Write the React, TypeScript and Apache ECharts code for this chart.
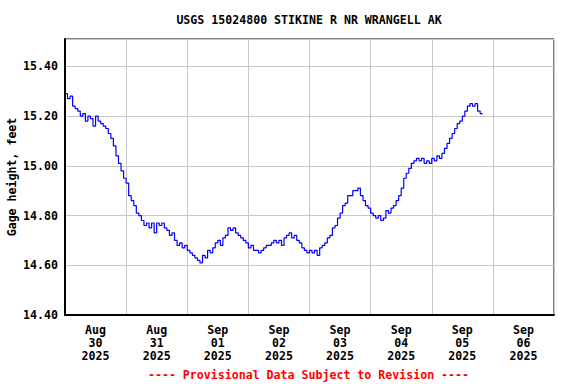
import React, { useEffect, useRef } from "react";
import * as echarts from "echarts";

const titleText = "USGS 15024800 STIKINE R NR WRANGELL AK";
const yAxisName = "Gage height, feet";
const footerText = "---- Provisional Data Subject to Revision ----";

// Day labels, centered at noon of each day (hours from Aug 30 00:00)
const dayLabels = [
  "Aug\n30\n2025",
  "Aug\n31\n2025",
  "Sep\n01\n2025",
  "Sep\n02\n2025",
  "Sep\n03\n2025",
  "Sep\n04\n2025",
  "Sep\n05\n2025",
  "Sep\n06\n2025",
];

// Hourly gage height readings, starting Aug 30 2025 00:00
const startHour = 0;
const gageHeight = [
  15.29, 15.27, 15.28, 15.24, 15.23, 15.22, 15.2, 15.21, 15.18, 15.2,
  15.19, 15.16, 15.2, 15.18, 15.17, 15.16, 15.15, 15.13, 15.11, 15.08,
  15.04, 15.01, 14.98, 14.95, 14.93, 14.88, 14.86, 14.84, 14.81, 14.8,
  14.78, 14.76, 14.77, 14.75, 14.77, 14.73, 14.77, 14.76, 14.77, 14.75,
  14.74, 14.72, 14.73, 14.7, 14.68, 14.69, 14.67, 14.68, 14.66, 14.65,
  14.64, 14.63, 14.62, 14.61, 14.64, 14.63, 14.66, 14.65, 14.67, 14.69,
  14.7, 14.68, 14.71, 14.72, 14.75, 14.74, 14.75, 14.73, 14.72, 14.71,
  14.7, 14.69, 14.67, 14.68, 14.66, 14.66, 14.65, 14.66, 14.67, 14.68,
  14.68, 14.69, 14.7, 14.69, 14.7, 14.68, 14.71, 14.72, 14.73, 14.71,
  14.72, 14.7, 14.69, 14.67, 14.66, 14.65, 14.66, 14.65, 14.66, 14.64,
  14.67, 14.68, 14.69, 14.71, 14.72, 14.75, 14.76, 14.79, 14.81, 14.84,
  14.85, 14.88, 14.88, 14.9, 14.9, 14.91, 14.88, 14.86, 14.84, 14.83,
  14.81, 14.8, 14.79, 14.8, 14.78, 14.79, 14.82, 14.81, 14.83, 14.84,
  14.86, 14.88, 14.91, 14.95, 14.97, 14.99, 15.01, 15.02, 15.03, 15.02,
  15.03, 15.01, 15.02, 15.01, 15.03, 15.02, 15.04, 15.03, 15.05, 15.07,
  15.09, 15.11, 15.13, 15.15, 15.17, 15.18, 15.2, 15.22, 15.24, 15.25,
  15.24, 15.25, 15.22, 15.21, 15.21,
];

const FONT = "'DejaVu Sans Mono', 'Liberation Mono', monospace";

export default function App() {
  const ref = useRef<HTMLDivElement>(null);

  useEffect(() => {
    if (!ref.current) return;
    const chart = echarts.init(ref.current, undefined, { renderer: "svg" });
    const data = gageHeight.map((v, i) => [startHour + i, v]);

    chart.setOption({
      animation: false,
      backgroundColor: "#ffffff",
      grid: {
        left: 65,
        right: 22,
        top: 39,
        height: 276,
        containLabel: false,
        outerBoundsMode: "none",
        show: true,
        borderColor: "#000",
        borderWidth: 1,
        backgroundColor: "transparent",
      },
      xAxis: [
        {
          type: "value",
          min: 0,
          max: 192,
          interval: 24,
          axisLine: { show: true, lineStyle: { color: "#000", width: 2 } },
          axisTick: { show: false },
          axisLabel: { show: false },
          splitLine: { show: true, lineStyle: { color: "#c8c8c8", width: 1 } },
        },
        {
          type: "value",
          min: 0,
          max: 192,
          interval: 12,
          position: "bottom",
          axisLine: { show: false },
          axisTick: { show: false },
          splitLine: { show: false },
          axisLabel: {
            show: true,
            margin: 8,
            fontFamily: FONT,
            fontWeight: "bold",
            fontSize: 11.6,
            lineHeight: 13,
            color: "#000",
            showMinLabel: false,
            showMaxLabel: false,
            formatter: (v: number) => {
              if (v % 24 === 12) {
                return dayLabels[Math.floor(v / 24)] ?? "";
              }
              return "";
            },
          },
        },
      ],
      yAxis: {
        type: "value",
        min: 14.4,
        max: 15.51,
        interval: 0.2,
        name: yAxisName,
        nameLocation: "middle",
        nameGap: 47,
        nameMoveOverlap: false,
        nameTextStyle: { fontFamily: FONT, fontWeight: "bold", fontSize: 11.6, color: "#000" },
        axisLine: { show: true, lineStyle: { color: "#000", width: 2 } },
        axisTick: { show: false },
        axisLabel: {
          margin: 7,
          fontFamily: FONT,
          fontWeight: "bold",
          fontSize: 11.6,
          color: "#000",
          showMaxLabel: false,
          formatter: (v: number) => v.toFixed(2),
        },
        splitLine: { show: true, lineStyle: { color: "#c8c8c8", width: 1 } },
      },
      series: [
        {
          type: "line",
          xAxisIndex: 0,
          data,
          step: "end",
          showSymbol: false,
          lineStyle: { color: "#0000ff", width: 1.2 },
          z: 5,
        },
      ],
      graphic: [
        {
          type: "text",
          x: 309,
          y: 20,
          style: {
            text: titleText,
            fill: "#000",
            font: `bold 11.6px ${FONT}`,
            textAlign: "center",
            textVerticalAlign: "middle",
          },
        },
        {
          type: "text",
          x: 308.5,
          y: 375,
          style: {
            text: footerText,
            fill: "#ff0000",
            font: `bold 11.6px ${FONT}`,
            textAlign: "center",
            textVerticalAlign: "middle",
          },
        },
      ],
    });

    return () => chart.dispose();
  }, []);

  return (
    <div
      ref={ref}
      style={{ position: "fixed", left: 0, top: 0, width: 576, height: 384, background: "#fff" }}
    />
  );
}
